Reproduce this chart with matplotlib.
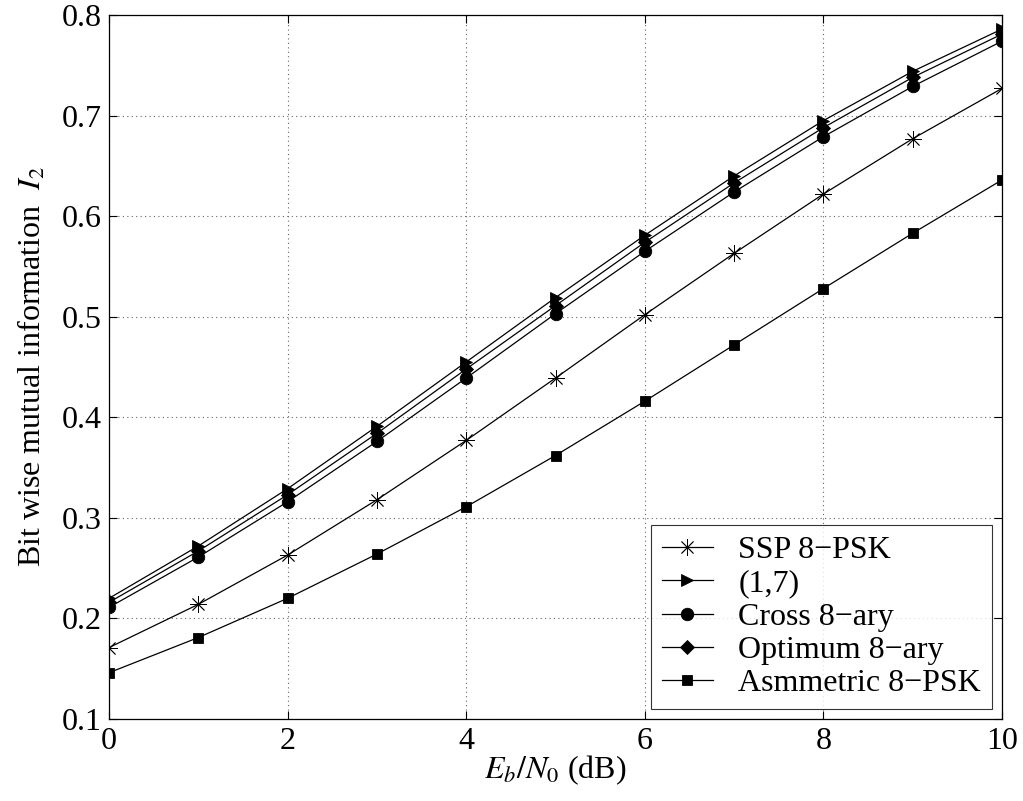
import matplotlib
matplotlib.use("Agg")
import matplotlib.pyplot as plt

plt.rcParams["font.family"] = ["Liberation Serif", "DejaVu Serif"]
plt.rcParams["mathtext.fontset"] = "stix"

ebn0 = [0, 1, 2, 3, 4, 5, 6, 7, 8, 9, 10]
ssp_8psk = [0.171, 0.214, 0.263, 0.318, 0.377, 0.439, 0.502, 0.563, 0.622, 0.677, 0.727]
map_17 = [0.220, 0.272, 0.329, 0.391, 0.455, 0.519, 0.581, 0.640, 0.695, 0.744, 0.786]
cross_8ary = [0.211, 0.261, 0.316, 0.376, 0.439, 0.503, 0.565, 0.624, 0.679, 0.729, 0.774]
optimum_8ary = [0.216, 0.267, 0.323, 0.384, 0.448, 0.511, 0.574, 0.633, 0.688, 0.738, 0.781]
asym_8psk = [0.146, 0.181, 0.220, 0.264, 0.311, 0.362, 0.416, 0.472, 0.528, 0.583, 0.636]

series = [
    ("SSP 8\u2212PSK", ssp_8psk, (8, 2, 0), 12),
    ("(1,7)", map_17, ">", 9),
    ("Cross 8\u2212ary", cross_8ary, "o", 9),
    ("Optimum 8\u2212ary", optimum_8ary, "D", 7),
    ("Asmmetric 8\u2212PSK", asym_8psk, "s", 7.5),
]

FS = 23

fig = plt.figure(figsize=(10.23, 8.01), dpi=100)
ax = fig.add_axes([109 / 1023, 1 - 719 / 801, 893 / 1023, 704 / 801])

for name, vals, mk, ms in series:
    ax.plot(ebn0, vals, color="black", linewidth=0.9, marker=mk, markersize=ms,
            markeredgewidth=0.6, markerfacecolor="black", markeredgecolor="black",
            label=name)

ax.set_xlim(0, 10)
ax.set_ylim(0.1, 0.8)
ax.set_xticks(range(0, 11, 2))
ax.set_yticks([0.1, 0.2, 0.3, 0.4, 0.5, 0.6, 0.7, 0.8])
ax.tick_params(direction="in", length=6, width=0.8, labelsize=FS, top=True, right=True)
ax.tick_params(axis="y", pad=5)
ax.tick_params(axis="x", pad=6)
ax.grid(True, linestyle=(0, (1, 3)), color="#666666", linewidth=0.8)
for sp in ax.spines.values():
    sp.set_linewidth(0.9)

ax.set_xlabel("$E_b/N_0$ (dB)", fontsize=FS, labelpad=-2)
ax.set_ylabel("Bit wise mutual information  $I_2$", fontsize=FS, labelpad=10)

leg = ax.legend(loc="lower right", fontsize=FS, frameon=True, fancybox=False,
                edgecolor="black", borderaxespad=0.3, handlelength=1.6,
                labelspacing=0.12, borderpad=0.35, handletextpad=0.8)
leg.get_frame().set_linewidth(0.8)

fig.savefig("out.png", dpi=100)
